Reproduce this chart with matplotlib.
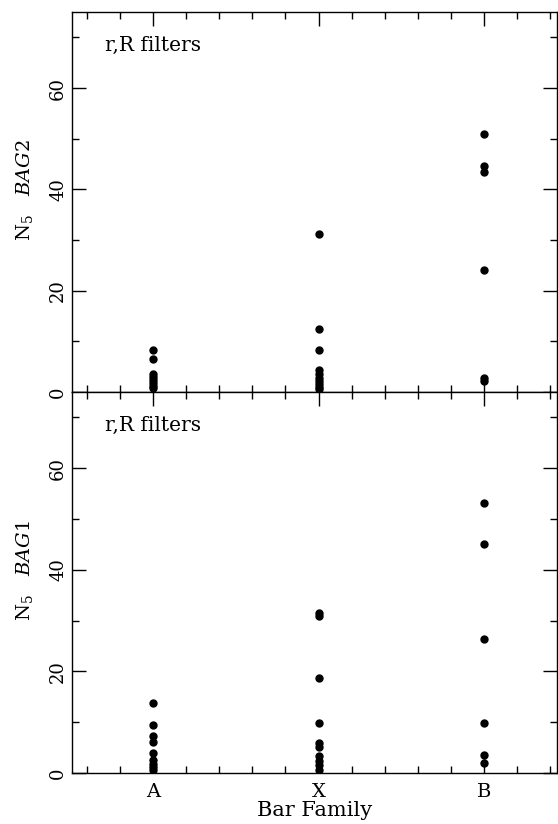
"""
N5 counts per bar family for the BAG2 and BAG1 samples (r,R filters)
"""
import matplotlib.pyplot as plt
from matplotlib.ticker import MultipleLocator

plt.rcParams["font.family"] = "DejaVu Serif"
plt.rcParams["mathtext.fontset"] = "dejavuserif"

families = ["A", "X", "B"]

# BAG2 sample (top panel)
bag2_a = [8.2, 6.6, 3.6, 3.0, 2.4, 1.8, 1.2, 0.8]
bag2_x = [31.1, 12.5, 8.3, 4.4, 3.6, 2.8, 2.2, 1.6, 1.0, 0.5]
bag2_b = [50.9, 44.6, 43.4, 24.1, 2.8, 2.2]

# BAG1 sample (bottom panel)
bag1_a = [13.7, 9.5, 7.3, 6.1, 4.0, 2.6, 1.8, 1.1, 0.6]
bag1_x = [31.4, 31.0, 18.7, 9.8, 6.0, 5.2, 3.4, 2.4, 1.6, 0.6]
bag1_b = [53.2, 45.1, 26.3, 9.8, 3.6, 2.0]

panels = [("BAG2", [bag2_a, bag2_x, bag2_b]),
          ("BAG1", [bag1_a, bag1_x, bag1_b])]

fig = plt.figure(figsize=(5.58, 8.24), dpi=100)
ax_top = fig.add_axes([0.129, 0.5243, 0.869, 0.4611])
ax_bot = fig.add_axes([0.129, 0.0619, 0.869, 0.4624], sharex=ax_top)

for ax, (name, groups) in zip([ax_top, ax_bot], panels):
    # Draws each family as a column of dots
    for pos, values in enumerate(groups, start=1):
        ax.plot([pos] * len(values), values, "o", color="black",
                markersize=5, linestyle="none")
    ax.set_xlim(0.51, 3.44)
    ax.set_ylim(0, 75)
    ax.yaxis.set_major_locator(MultipleLocator(20))
    ax.yaxis.set_minor_locator(MultipleLocator(10))
    ax.set_xticks([1, 2, 3])
    ax.xaxis.set_minor_locator(MultipleLocator(0.2))
    ax.tick_params(which="both", direction="in", top=True, right=True,
                   labelsize=13, width=1)
    ax.tick_params(which="major", length=10)
    ax.tick_params(which="minor", length=5)
    for label in ax.get_yticklabels():
        label.set_rotation(90)
        label.set_va("center")
    ax.set_ylabel(r"N$_5$   $BAG" + name[-1] + "$", fontsize=14)
    ax.yaxis.set_label_coords(-0.077, 0.53)
    ax.text(0.068, 0.913, "r,R filters", transform=ax.transAxes,
            fontsize=14.5, va="center", ha="left")
    for spine in ax.spines.values():
        spine.set_linewidth(1)

plt.setp(ax_top.get_xticklabels(), visible=False)
ax_bot.set_xticklabels(families)
ax_bot.tick_params(axis="x", pad=7, labelsize=14)
ax_bot.set_xlabel("Bar Family", fontsize=15, labelpad=0)

fig.savefig("out.png", dpi=100)
